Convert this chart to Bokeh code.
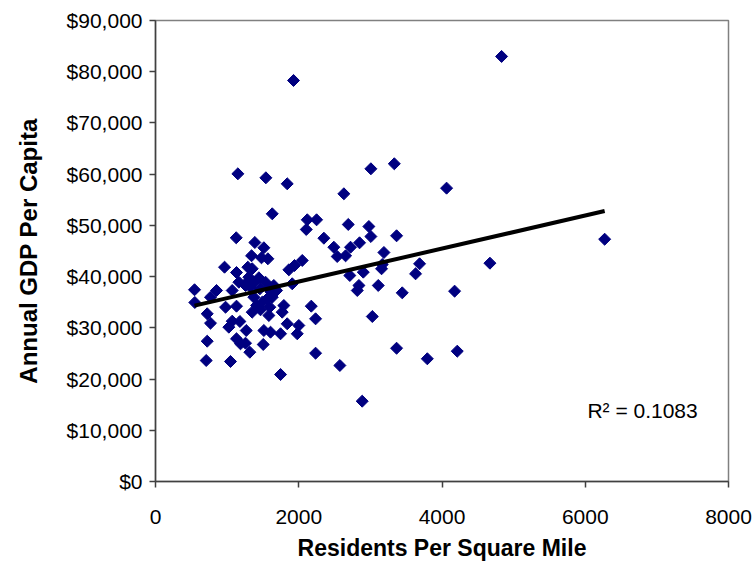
import numpy as np
from bokeh.plotting import figure
from bokeh.models import (ColumnDataSource, FixedTicker, Label, NumeralTickFormatter,
                          PrintfTickFormatter, Range1d)
from bokeh.embed import file_html
from bokeh.resources import INLINE

# Population density (residents per square mile) for each metro area
density = [
    4832, 1927, 1150, 1541, 1839, 1630, 3007, 3334, 4064, 2630,
    2119, 2249, 2105, 2691, 2351, 2979, 3007, 3366, 2490, 2723,
    2849, 2537, 2654, 3189, 2049, 2713, 2901, 3156, 3166, 3631,
    3687, 4669, 2840, 2817, 3110, 3445, 4176, 2175, 2235, 3027,
    2235, 2574, 3366, 3795, 4213, 2886, 6271,
    1127, 1387, 1513, 1480, 1569, 1341, 964, 1131, 1350, 1303,
    1443, 1862, 1941, 545, 852, 1071, 1164, 1257, 1327, 1373,
    1457, 1652, 1615, 1909, 768, 549, 978, 1131, 1373, 1490,
    1560, 1411, 1350, 1466, 1596, 1583, 1792, 1769, 722, 768,
    1071, 1178, 1024, 1839, 2001, 1979, 1267, 1513, 1606, 1746,
    722, 1131, 1187, 1257, 1504, 1317, 708, 1047, 1746,
    1289, 1248, 1536, 1583, 1690, 1630,
]

# Annual GDP per capita (US dollars) for the same metro areas
gdp_per_capita = [
    82980, 78290, 60070, 59290, 58120, 52260, 61050, 62030, 57270, 56170,
    51090, 51090, 49200, 50180, 47500, 49780, 47830, 47970, 45740, 45740,
    46600, 43930, 44060, 44710, 43150, 40220, 40870, 41530, 42370, 40550,
    42500, 42620, 38270, 37290, 38270, 36830, 37160, 34230, 31760, 32210,
    25050, 22650, 26020, 23960, 25440, 15680, 47300,
    47580, 46660, 45630, 43670, 43480, 44070, 41840, 40800, 41530, 39890,
    39770, 41330, 42170, 37430, 37290, 37290, 38910, 38270, 37930, 38910,
    37620, 38270, 36960, 38600, 35980, 34950, 34030, 34230, 35980, 35010,
    35670, 34360, 33060, 33520, 34030, 32410, 34360, 33060, 32740, 30910,
    31300, 31240, 30130, 30790, 30460, 28840, 29480, 29480, 29150, 28840,
    27390, 27860, 26880, 27000, 26750, 25240, 23620, 23430, 20890,
    41840, 38460, 38910, 37620, 37290, 35980,
]

x_ticks = [0, 2000, 4000, 6000, 8000]
y_ticks = [0, 10000, 20000, 30000, 40000, 50000, 60000, 70000, 80000, 90000]
x_title = "Residents Per Square Mile"
y_title = "Annual GDP Per Capita"
r_squared_text = "R\u00b2 = 0.1083"

FONT = "Liberation Sans"
MARKER_COLOR = "#000080"

p = figure(
    width=754, height=563,
    x_range=Range1d(0, 8000), y_range=Range1d(0, 90000),
    output_backend="svg", toolbar_location=None,
    min_border_left=155, min_border_right=26,
    min_border_top=20, min_border_bottom=82,
    background_fill_color="white", border_fill_color="white",
)

p.outline_line_color = "#808080"
p.outline_line_width = 1.5
p.grid.visible = False

p.xaxis.ticker = FixedTicker(ticks=x_ticks)
p.yaxis.ticker = FixedTicker(ticks=y_ticks)
p.xaxis.formatter = PrintfTickFormatter(format="%d")
p.yaxis.formatter = NumeralTickFormatter(format="$0,0")

p.xaxis.axis_label = x_title
p.yaxis.axis_label = y_title

for ax in (p.xaxis, p.yaxis):
    ax.axis_line_color = "#404040"
    ax.axis_line_width = 1.5
    ax.major_tick_line_color = "#404040"
    ax.major_tick_line_width = 1.5
    ax.major_tick_out = 6
    ax.major_tick_in = 0
    ax.minor_tick_line_color = None
    ax.major_label_text_font = FONT
    ax.major_label_text_font_size = "21px"
    ax.major_label_text_color = "black"
    ax.axis_label_text_font = FONT
    ax.axis_label_text_font_style = "bold"
    ax.axis_label_text_color = "black"

p.xaxis.axis_label_text_font_size = "23px"
p.yaxis.axis_label_text_font_size = "24px"
p.xaxis.major_label_standoff = 22
p.xaxis.axis_label_standoff = 8
p.yaxis.major_label_standoff = 7
p.yaxis.axis_label_standoff = 22

src = ColumnDataSource(dict(x=density, y=gdp_per_capita))
p.scatter("x", "y", source=src, marker="square", angle=np.pi / 4, size=8.5,
          fill_color=MARKER_COLOR, line_color=MARKER_COLOR)

# Least-squares linear trendline over the observed density span
xs = np.array(density, dtype=float)
ys = np.array(gdp_per_capita, dtype=float)
slope, intercept = np.polyfit(xs, ys, 1)
x_line = [xs.min(), xs.max()]
p.line(x_line, [slope * v + intercept for v in x_line],
       line_color="black", line_width=4)

p.add_layout(Label(x=6030, y=13860, text=r_squared_text, text_font=FONT,
                   text_font_size="21px", text_color="black",
                   text_baseline="middle"))

open("out.html", "w").write(file_html(p, INLINE))
